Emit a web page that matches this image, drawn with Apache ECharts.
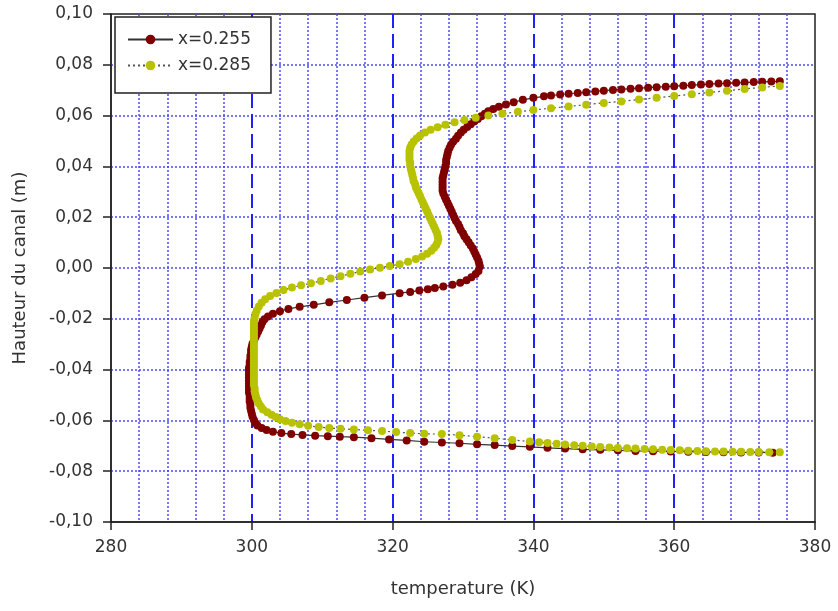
<!DOCTYPE html>
<html>
<head>
<meta charset="utf-8">
<script src="https://cdn.jsdelivr.net/npm/echarts@6/dist/echarts.min.js"></script>
<style>
  html, body { margin: 0; padding: 0; background: #fff; }
  #chart { width: 838px; height: 611px; }
</style>
</head>
<body>
<div id="chart"></div>
<script>
// profil de température, x = 0.255 : [T (K), hauteur (m)]
const serie255 = [
  [375, 0.0735], [373.8, 0.0734], [372.5, 0.0733], [371.3, 0.0732], [370, 0.0730], [368.8, 0.0729],
  [367.5, 0.0727], [366.3, 0.0726], [365, 0.0724], [363.8, 0.0722], [362.5, 0.0720], [361.3, 0.0718],
  [360, 0.0716], [358.8, 0.0714], [357.5, 0.0712], [356.3, 0.0710], [355, 0.0708], [353.8, 0.0706],
  [352.5, 0.0703], [351.3, 0.0701], [350, 0.0698], [348.8, 0.0695], [347.5, 0.0692], [346.3, 0.0689],
  [345, 0.0686], [343.8, 0.0683], [342.5, 0.0679], [341.5, 0.0676], [340, 0.0670], [338.5, 0.0662],
  [337.2, 0.0653], [336.1, 0.0644], [335.1, 0.0635], [334.3, 0.0626], [333.6, 0.0617], [333.1, 0.0607],
  [332.6, 0.0597], [332.1, 0.0587], [331.6, 0.0577], [331.1, 0.0566], [330.6, 0.0555], [330.1, 0.0544],
  [329.7, 0.0533], [329.3, 0.0521], [329.0, 0.0509], [328.6, 0.0497], [328.3, 0.0485], [328.1, 0.0473],
  [327.9, 0.0461], [327.8, 0.0449], [327.7, 0.0437], [327.6, 0.0425], [327.6, 0.0413], [327.5, 0.0401],
  [327.4, 0.0389], [327.3, 0.0377], [327.2, 0.0365], [327.1, 0.0353], [327.1, 0.0341], [327.1, 0.0329],
  [327.1, 0.0317], [327.1, 0.0305], [327.2, 0.0293], [327.4, 0.0281], [327.6, 0.0269], [327.8, 0.0257],
  [328.0, 0.0245], [328.2, 0.0233], [328.4, 0.0221], [328.6, 0.0209], [328.8, 0.0197], [329.0, 0.0185],
  [329.3, 0.0173], [329.5, 0.0161], [329.7, 0.0149], [330.0, 0.0137], [330.2, 0.0125], [330.5, 0.0113],
  [330.8, 0.0101], [331.1, 0.0089], [331.4, 0.0077], [331.6, 0.0065], [331.8, 0.0053], [332.0, 0.0041],
  [332.2, 0.0029], [332.3, 0.0017], [332.4, 0.0006], [332.2, -0.0012], [331.8, -0.0024], [331.2, -0.0036],
  [330.5, -0.0048], [329.6, -0.0058], [328.5, -0.0066], [327.2, -0.0073], [326.0, -0.0079], [325.0, -0.0084],
  [323.8, -0.0089], [322.5, -0.0094], [321, -0.0099], [318.5, -0.0108], [316, -0.0117], [313.5, -0.0126],
  [311, -0.0135], [308.8, -0.0145], [306.8, -0.0153], [305.2, -0.0161], [304, -0.0170], [303, -0.0180],
  [302.3, -0.0191], [301.8, -0.0202], [301.5, -0.0214], [301.3, -0.0226], [301.1, -0.0238], [300.9, -0.0250],
  [300.7, -0.0262], [300.5, -0.0274], [300.3, -0.0286], [300.1, -0.0298], [300.0, -0.0310], [299.9, -0.0322],
  [299.9, -0.0334], [299.8, -0.0346], [299.8, -0.0358], [299.7, -0.0370], [299.7, -0.0382], [299.6, -0.0394],
  [299.6, -0.0406], [299.6, -0.0418], [299.6, -0.0430], [299.6, -0.0442], [299.6, -0.0454], [299.6, -0.0466],
  [299.6, -0.0478], [299.6, -0.0490], [299.7, -0.0502], [299.7, -0.0514], [299.7, -0.0526], [299.8, -0.0538],
  [299.8, -0.0550], [299.9, -0.0562], [300.0, -0.0574], [300.1, -0.0586], [300.3, -0.0598], [300.5, -0.0610],
  [300.8, -0.0620], [301.4, -0.0630], [302.1, -0.0638], [303.0, -0.0645], [304.2, -0.0650], [305.6, -0.0654],
  [307.2, -0.0657], [309, -0.0660], [310.8, -0.0662], [312.5, -0.0664], [314.5, -0.0666], [317, -0.0670],
  [319.5, -0.0675], [322, -0.0679], [324.5, -0.0684], [327, -0.0687], [329.5, -0.0690], [332, -0.0694],
  [334.5, -0.0697], [337, -0.0701], [339.5, -0.0704], [342, -0.0708], [344.5, -0.0711], [347, -0.0714],
  [349.5, -0.0716], [352, -0.0718], [354.5, -0.0720], [357, -0.0721], [359.5, -0.0722], [362, -0.0723],
  [364.5, -0.0724], [367, -0.0725], [369.5, -0.0726], [372, -0.0726], [374, -0.0727]
];

// profil de température, x = 0.285
const serie285 = [
  [375, 0.0717], [372.5, 0.0711], [370, 0.0705], [367.5, 0.0698], [365, 0.0691], [362.5, 0.0684],
  [360, 0.0677], [357.5, 0.0670], [355, 0.0663], [352.5, 0.0656], [350, 0.0650], [347.5, 0.0643],
  [345, 0.0636], [342.5, 0.0629], [340, 0.0622], [337.8, 0.0615], [335.6, 0.0607], [333.6, 0.0600],
  [331.8, 0.0592], [330.2, 0.0583], [328.8, 0.0574], [327.5, 0.0564], [326.4, 0.0554], [325.4, 0.0544],
  [324.6, 0.0533], [323.9, 0.0522], [323.4, 0.0510], [323.0, 0.0498], [322.7, 0.0486], [322.5, 0.0474],
  [322.4, 0.0462], [322.4, 0.0450], [322.4, 0.0438], [322.4, 0.0426], [322.5, 0.0414], [322.5, 0.0402],
  [322.6, 0.0390], [322.7, 0.0378], [322.8, 0.0366], [322.9, 0.0354], [323.0, 0.0342], [323.2, 0.0330],
  [323.3, 0.0318], [323.5, 0.0306], [323.7, 0.0294], [323.9, 0.0282], [324.1, 0.0270], [324.3, 0.0258],
  [324.5, 0.0246], [324.7, 0.0234], [324.9, 0.0222], [325.1, 0.0210], [325.3, 0.0198], [325.5, 0.0186],
  [325.7, 0.0174], [325.9, 0.0162], [326.1, 0.0150], [326.3, 0.0138], [326.4, 0.0126], [326.5, 0.0114],
  [326.4, 0.0102], [326.2, 0.0091], [325.9, 0.0080], [325.5, 0.0068], [324.9, 0.0056], [324.2, 0.0045],
  [323.3, 0.0035], [322.2, 0.0025], [321, 0.0015], [319.6, 0.0008], [318.2, 0.0001], [316.8, -0.0006],
  [315.4, -0.0014], [314, -0.0023], [312.6, -0.0032], [311.2, -0.0041], [309.8, -0.0051], [308.4, -0.0060],
  [307, -0.0068], [305.7, -0.0077], [304.5, -0.0087], [303.5, -0.0098], [302.6, -0.0110], [301.9, -0.0123],
  [301.4, -0.0137], [301.0, -0.0152], [300.7, -0.0167], [300.5, -0.0182], [300.4, -0.0197], [300.3, -0.0209],
  [300.3, -0.0221], [300.3, -0.0233], [300.3, -0.0245], [300.3, -0.0257], [300.3, -0.0269], [300.3, -0.0281],
  [300.3, -0.0293], [300.3, -0.0305], [300.3, -0.0317], [300.3, -0.0329], [300.3, -0.0341], [300.3, -0.0353],
  [300.3, -0.0365], [300.3, -0.0377], [300.3, -0.0389], [300.3, -0.0401], [300.3, -0.0413], [300.3, -0.0425],
  [300.3, -0.0437], [300.3, -0.0449], [300.3, -0.0461], [300.4, -0.0473], [300.4, -0.0485], [300.5, -0.0497],
  [300.6, -0.0509], [300.8, -0.0521], [301.0, -0.0533], [301.3, -0.0545], [301.6, -0.0557], [302.2, -0.0568],
  [302.8, -0.0578], [303.4, -0.0587], [304.0, -0.0595], [304.8, -0.0602], [305.7, -0.0609], [306.8, -0.0615],
  [308, -0.0621], [309.5, -0.0626], [311, -0.0630], [312.6, -0.0633], [314.5, -0.0636], [316.5, -0.0639],
  [318.5, -0.0642], [320.5, -0.0646], [322.5, -0.0650], [324.5, -0.0653], [327, -0.0654], [329.5, -0.0658],
  [332, -0.0664], [334.5, -0.0670], [337, -0.0677], [339.5, -0.0683], [340.8, -0.0686], [342, -0.0689],
  [343.3, -0.0692], [344.5, -0.0695], [345.8, -0.0698], [347, -0.0700], [348.3, -0.0703], [349.5, -0.0705],
  [350.8, -0.0707], [352, -0.0709], [353.3, -0.0710], [354.5, -0.0711], [355.8, -0.0713], [357, -0.0714],
  [358.3, -0.0716], [359.5, -0.0717], [360.8, -0.0718], [362, -0.0719], [363.3, -0.0720], [364.5, -0.0721],
  [365.8, -0.0722], [367, -0.0722], [368.3, -0.0723], [369.5, -0.0723], [370.8, -0.0724], [372, -0.0724],
  [373.5, -0.0725], [375, -0.0725]
];

const seriesNames = ["x=0.255", "x=0.285"];
const xTitle = "temperature (K)";
const yTitle = "Hauteur du canal (m)";

const chart = echarts.init(document.getElementById("chart"));
const fontFam = "DejaVu Sans, sans-serif";
const labelFont = { fontFamily: fontFam, fontSize: 17, color: "#333" };

chart.setOption({
  animation: false,
  backgroundColor: "#fff",
  grid: { left: 111, right: 23, top: 14, bottom: 89, show: true, borderColor: "#222", borderWidth: 1.5, backgroundColor: "transparent" },
  legend: {
    left: 115, top: 17, orient: "vertical",
    itemWidth: 45, itemHeight: 12, itemGap: 9,
    padding: [14, 20, 19, 12],
    backgroundColor: "#fff", borderColor: "#222", borderWidth: 1.5, borderRadius: 0,
    textStyle: labelFont,
    data: seriesNames
  },
  xAxis: {
    type: "value", min: 280, max: 380, interval: 20,
    name: xTitle, nameLocation: "middle", nameGap: 58,
    nameTextStyle: { fontFamily: fontFam, fontSize: 18, color: "#333" },
    axisLine: { show: true, onZero: false, lineStyle: { color: "#222", width: 1.5 } },
    axisTick: { show: true, inside: false, length: 8, lineStyle: { color: "#222", width: 1.5 } },
    axisLabel: Object.assign({ margin: 17 }, labelFont),
    splitLine: { show: true, showMinLine: false, showMaxLine: false, lineStyle: { color: "#2020ff", width: 2, type: [14, 6] } },
    minorTick: { show: false, splitNumber: 5 },
    minorSplitLine: { show: true, lineStyle: { color: "#4a4aff", width: 1.5, type: [2, 2] } }
  },
  yAxis: {
    type: "value", min: -0.1, max: 0.1, interval: 0.02,
    name: yTitle, nameLocation: "middle", nameGap: 82, nameRotate: 90,
    nameTextStyle: { fontFamily: fontFam, fontSize: 18, color: "#333" },
    axisLine: { show: true, onZero: false, lineStyle: { color: "#222", width: 1.5 } },
    axisTick: { show: true, inside: false, length: 8, lineStyle: { color: "#222", width: 1.5 } },
    axisLabel: Object.assign({
      margin: 18,
      formatter: (v) => (Math.abs(v) < 1e-9 ? 0 : v).toFixed(2).replace(".", ",")
    }, labelFont),
    splitLine: { show: true, showMinLine: false, showMaxLine: false, lineStyle: { color: "#4a4aff", width: 1.5, type: [2, 2] } }
  },
  series: [
    {
      name: seriesNames[0], type: "line", data: serie255, z: 3,
      symbol: "circle", symbolSize: 8, showSymbol: true,
      itemStyle: { color: "#800000" },
      lineStyle: { color: "#333", width: 1.2, type: "solid" }
    },
    {
      name: seriesNames[1], type: "line", data: serie285, z: 4,
      symbol: "circle", symbolSize: 8, showSymbol: true,
      itemStyle: { color: "#b8c200" },
      lineStyle: { color: "#555", width: 1.2, type: [2, 3] }
    }
  ]
});
</script>
</body>
</html>
